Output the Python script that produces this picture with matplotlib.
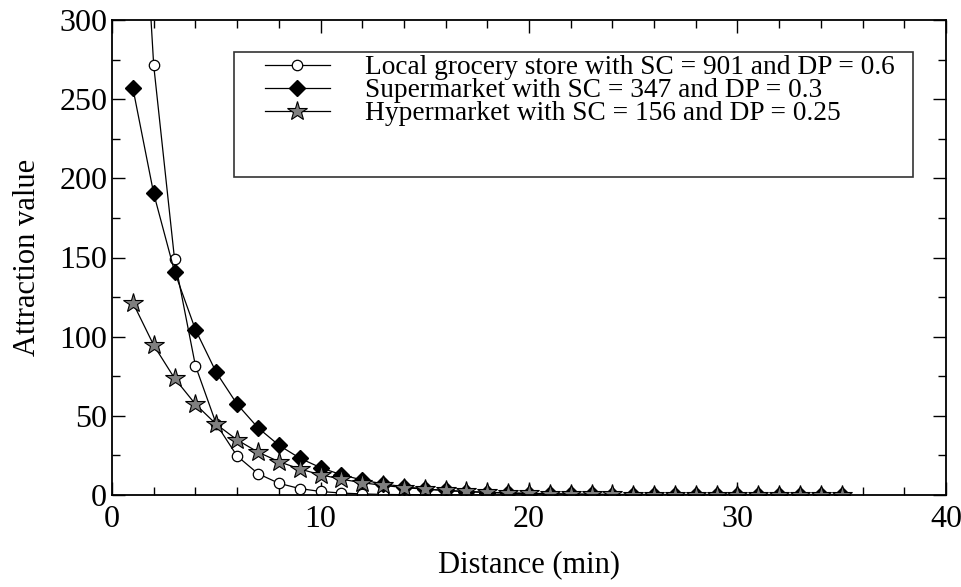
import matplotlib
matplotlib.use("Agg")
import matplotlib.pyplot as plt
from matplotlib.ticker import MultipleLocator
from matplotlib.patches import Rectangle

distance = list(range(1, 36))

local_grocery = [494.48, 271.38, 148.93, 81.74, 44.86, 24.62, 13.51, 7.41, 4.07, 2.23,
                 1.23, 0.67, 0.37, 0.20, 0.11, 0.06, 0.03, 0.02, 0.01, 0.01,
                 0.0, 0.0, 0.0, 0.0, 0.0, 0.0, 0.0, 0.0, 0.0, 0.0,
                 0.0, 0.0, 0.0, 0.0, 0.0]
supermarket = [257.06, 190.44, 141.08, 104.51, 77.43, 57.36, 42.49, 31.48, 23.32, 17.28,
               12.80, 9.48, 7.02, 5.20, 3.85, 2.86, 2.12, 1.57, 1.16, 0.86,
               0.64, 0.47, 0.35, 0.26, 0.19, 0.14, 0.11, 0.08, 0.06, 0.04,
               0.03, 0.02, 0.02, 0.01, 0.01]
hypermarket = [121.49, 94.62, 73.69, 57.39, 44.69, 34.81, 27.11, 21.11, 16.44, 12.81,
               9.97, 7.77, 6.05, 4.71, 3.67, 2.86, 2.23, 1.73, 1.35, 1.05,
               0.82, 0.64, 0.50, 0.39, 0.30, 0.23, 0.18, 0.14, 0.11, 0.09,
               0.07, 0.05, 0.04, 0.03, 0.03]

labels = ["Local grocery store with SC = 901 and DP = 0.6",
          "Supermarket with SC = 347 and DP = 0.3",
          "Hypermarket with SC = 156 and DP = 0.25"]

plt.rcParams['font.family'] = ['Liberation Serif', 'DejaVu Serif']

fig = plt.figure(figsize=(9.62, 5.87), dpi=100)
ax = fig.add_axes([112/962, 1-495/587, (946-112)/962, (495-20)/587])

ax.plot(distance, local_grocery, color='black', lw=0.9, marker='o', ms=7.5,
        mfc='white', mec='black', mew=0.9, label=labels[0])
ax.plot(distance, supermarket, color='black', lw=0.9, marker='D', ms=8.5,
        mfc='black', mec='black', label=labels[1])
ax.plot(distance, hypermarket, color='black', lw=0.9, marker='*', ms=15,
        mfc='#7f7f7f', mec='black', mew=0.8, label=labels[2])

ax.set_xlim(0, 40)
ax.set_ylim(0, 300)
ax.xaxis.set_major_locator(MultipleLocator(10))
ax.xaxis.set_minor_locator(MultipleLocator(2))
ax.yaxis.set_major_locator(MultipleLocator(50))
ax.yaxis.set_minor_locator(MultipleLocator(25))
ax.tick_params(which='both', direction='in', top=True, right=True, width=1)
ax.tick_params(which='major', length=9.5, labelsize=23)
ax.tick_params(axis='x', which='major', pad=7)
ax.tick_params(axis='y', which='major', pad=3.5)
ax.tick_params(which='minor', length=5.5)
for s in ax.spines.values():
    s.set_linewidth(1.3)

ax.set_xlabel("Distance (min)", fontsize=22, labelpad=12)
ax.set_ylabel("Attraction value", fontsize=22, labelpad=12)

leg = ax.legend(loc='upper left', bbox_to_anchor=(0.1835, 0.9263), frameon=False,
                fontsize=19.7, handlelength=2.37, handletextpad=1.28,
                labelspacing=-0.08, borderpad=0, borderaxespad=0)
ax.add_patch(Rectangle((0.1463, 0.6695), 0.8141, 0.2632, transform=ax.transAxes,
                       fill=False, edgecolor='#333333', lw=1.2, zorder=5))

fig.savefig("out.png", dpi=100)
